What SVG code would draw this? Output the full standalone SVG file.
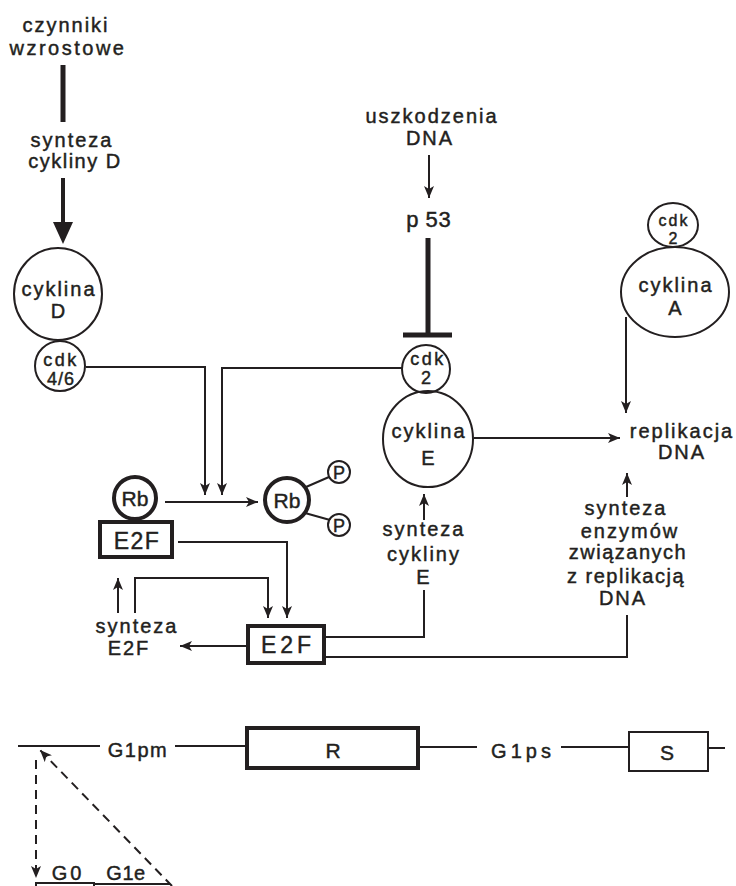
<svg xmlns="http://www.w3.org/2000/svg" width="736" height="886" viewBox="0 0 736 886">
<defs>
<style>
text{font-family:"Liberation Sans",Arial,sans-serif;font-size:20px;fill:#231f20;stroke:#231f20;stroke-width:0.45px;text-anchor:middle;letter-spacing:2px}
.c{fill:none;stroke:#231f20;stroke-width:2}
.ln{fill:none;stroke:#231f20;stroke-width:2}
.thick{fill:none;stroke:#231f20;stroke-width:4}
.dash{fill:none;stroke:#231f20;stroke-width:2;stroke-dasharray:9 6}
.sm{font-size:18px}
.big{font-size:23px}
</style>
<marker id="a" viewBox="0 0 12 10" refX="12" refY="5" markerWidth="12" markerHeight="10" markerUnits="userSpaceOnUse" orient="auto"><path d="M0,0 L12,5 L0,10 L3,5 z" fill="#231f20"/></marker>
</defs>
<rect width="736" height="886" fill="#fff"/>

<g id="czynniki">
<text x="66" y="32" style="letter-spacing:2px">czynniki</text>
<text x="68" y="55" style="letter-spacing:2.5px">wzrostowe</text>
</g>
<g id="synteza-cykliny-d">
<text x="72" y="147">synteza</text>
<text x="75" y="168" style="letter-spacing:1.5px">cykliny D</text>
</g>
<g id="cyklina-d">
<ellipse cx="58" cy="294" rx="44" ry="46" class="c"/>
<text x="59" y="296">cyklina</text>
<text x="59" y="318">D</text>
</g>
<g id="cdk46">
<circle cx="60" cy="366" r="25" class="c"/>
<text x="61" y="366" class="sm" style="letter-spacing:2.5px">cdk</text>
<text x="61" y="385" class="sm" style="letter-spacing:1px">4/6</text>
</g>
<g id="uszkodzenia">
<text x="432" y="123">uszkodzenia</text>
<text x="430" y="145">DNA</text>
</g>
<g id="p53">
<text x="429" y="227" style="font-size:22px;letter-spacing:1px">p<tspan dx="6">53</tspan></text>
</g>
<g id="cdk2-e">
<circle cx="426" cy="369" r="24" class="c"/>
<text x="428" y="365" class="sm" style="letter-spacing:2.5px">cdk</text>
<text x="427" y="384" class="sm">2</text>
</g>
<g id="cyklina-e">
<ellipse cx="428" cy="439" rx="45" ry="48" class="c"/>
<text x="429" y="438">cyklina</text>
<text x="429" y="465">E</text>
</g>
<g id="cdk2-a">
<ellipse cx="673" cy="225" rx="25" ry="22" class="c"/>
<text x="674" y="226" style="font-size:16px;letter-spacing:2px">cdk</text>
<text x="674" y="244" style="font-size:16px">2</text>
</g>
<g id="cyklina-a">
<ellipse cx="675" cy="292" rx="54" ry="45" class="c"/>
<text x="676" y="292">cyklina</text>
<text x="676" y="315">A</text>
</g>
<g id="replikacja">
<text x="682" y="438" style="letter-spacing:2px">replikacja</text>
<text x="682" y="459">DNA</text>
</g>
<g id="synteza-enzymow">
<text x="626" y="515">synteza</text>
<text x="630" y="538">enzymów</text>
<text x="628" y="559" style="letter-spacing:1.5px">związanych</text>
<text x="626" y="583" style="letter-spacing:1.5px">z replikacją</text>
<text x="623" y="605">DNA</text>
</g>
<g id="synteza-cykliny-e">
<text x="424" y="536">synteza</text>
<text x="424" y="561">cykliny</text>
<text x="424" y="584">E</text>
</g>
<g id="rb">
<circle cx="135" cy="498" r="21" class="thick"/>
<text x="135" y="506" style="font-size:21px;letter-spacing:0">Rb</text>
</g>
<g id="e2f-bound">
<rect x="100" y="522" width="72" height="35" class="thick"/>
<text x="137" y="549" class="big" style="letter-spacing:1.5px">E2F</text>
</g>
<g id="rb-p">
<circle cx="287" cy="500" r="22" class="thick"/>
<text x="287" y="508" style="font-size:21px;letter-spacing:0">Rb</text>
<circle cx="339" cy="472" r="11" class="c"/>
<text x="339" y="479" class="sm" style="letter-spacing:0">P</text>
<circle cx="339" cy="525" r="11" class="c"/>
<text x="339" y="532" class="sm" style="letter-spacing:0">P</text>
<path d="M306,487 L329,477 M305,513 L330,520" class="ln"/>
</g>
<g id="e2f-free">
<rect x="248" y="626" width="76" height="37" class="thick"/>
<text x="288" y="653" class="big" style="letter-spacing:4px">E2F</text>
</g>
<g id="synteza-e2f">
<text x="137" y="633">synteza</text>
<text x="129" y="655">E2F</text>
</g>

<g id="connectors">
<path d="M63,65 V122" style="fill:none;stroke:#231f20;stroke-width:5"/>
<path d="M63,178 V224" style="fill:none;stroke:#231f20;stroke-width:4"/>
<path d="M53,222 L73,222 L63,244 z" fill="#231f20"/>
<path d="M429,155 V198" class="ln" marker-end="url(#a)"/>
<path d="M428,238 V335" style="fill:none;stroke:#231f20;stroke-width:5"/>
<path d="M403,335 H452" style="fill:none;stroke:#231f20;stroke-width:5"/>
<path d="M86,367 H205 V495" class="ln" marker-end="url(#a)"/>
<path d="M402,368 H222 V495" class="ln" marker-end="url(#a)"/>
<path d="M165,502 H258" class="ln" marker-end="url(#a)"/>
<path d="M474,438 H620" class="ln" marker-end="url(#a)"/>
<path d="M626,317 V413" class="ln" marker-end="url(#a)"/>
<path d="M627,497 V473" class="ln" marker-end="url(#a)"/>
<path d="M424,520 V494" class="ln" marker-end="url(#a)"/>
<path d="M178,542 H287 V618" class="ln" marker-end="url(#a)"/>
<path d="M135,613 V578 H268 V618" class="ln" marker-end="url(#a)"/>
<path d="M118,613 V578" class="ln" marker-end="url(#a)"/>
<path d="M248,646 H180" class="ln" marker-end="url(#a)"/>
<path d="M324,637 H424 V590" class="ln"/>
<path d="M324,657 H627 V615" class="ln"/>
</g>

<g id="timeline">
<path d="M18,746 H100 M175,746 H247 M418,747 H477 M561,747 H629 M708,748 H725" class="ln"/>
<text x="138" y="757" style="letter-spacing:1.5px">G1pm</text>
<rect x="247" y="728" width="171" height="40" class="thick"/>
<text x="333" y="758" style="font-size:21px;letter-spacing:0">R</text>
<text x="523" y="758" style="letter-spacing:4px">G1ps</text>
<rect x="629" y="732" width="79" height="39" class="c"/>
<text x="667" y="760" style="font-size:21px;letter-spacing:0">S</text>
</g>
<g id="g0">
<path d="M36,760 V878" class="dash" marker-end="url(#a)"/>
<path d="M172,886 L40,750" class="dash" marker-end="url(#a)"/>
<text x="68" y="880" style="letter-spacing:3px">G0</text>
<text x="126" y="880" style="letter-spacing:0.5px">G1e</text>
<rect x="36" y="883" width="58" height="10" class="c"/>
<path d="M94,884 H170" class="ln"/>
</g>
</svg>
